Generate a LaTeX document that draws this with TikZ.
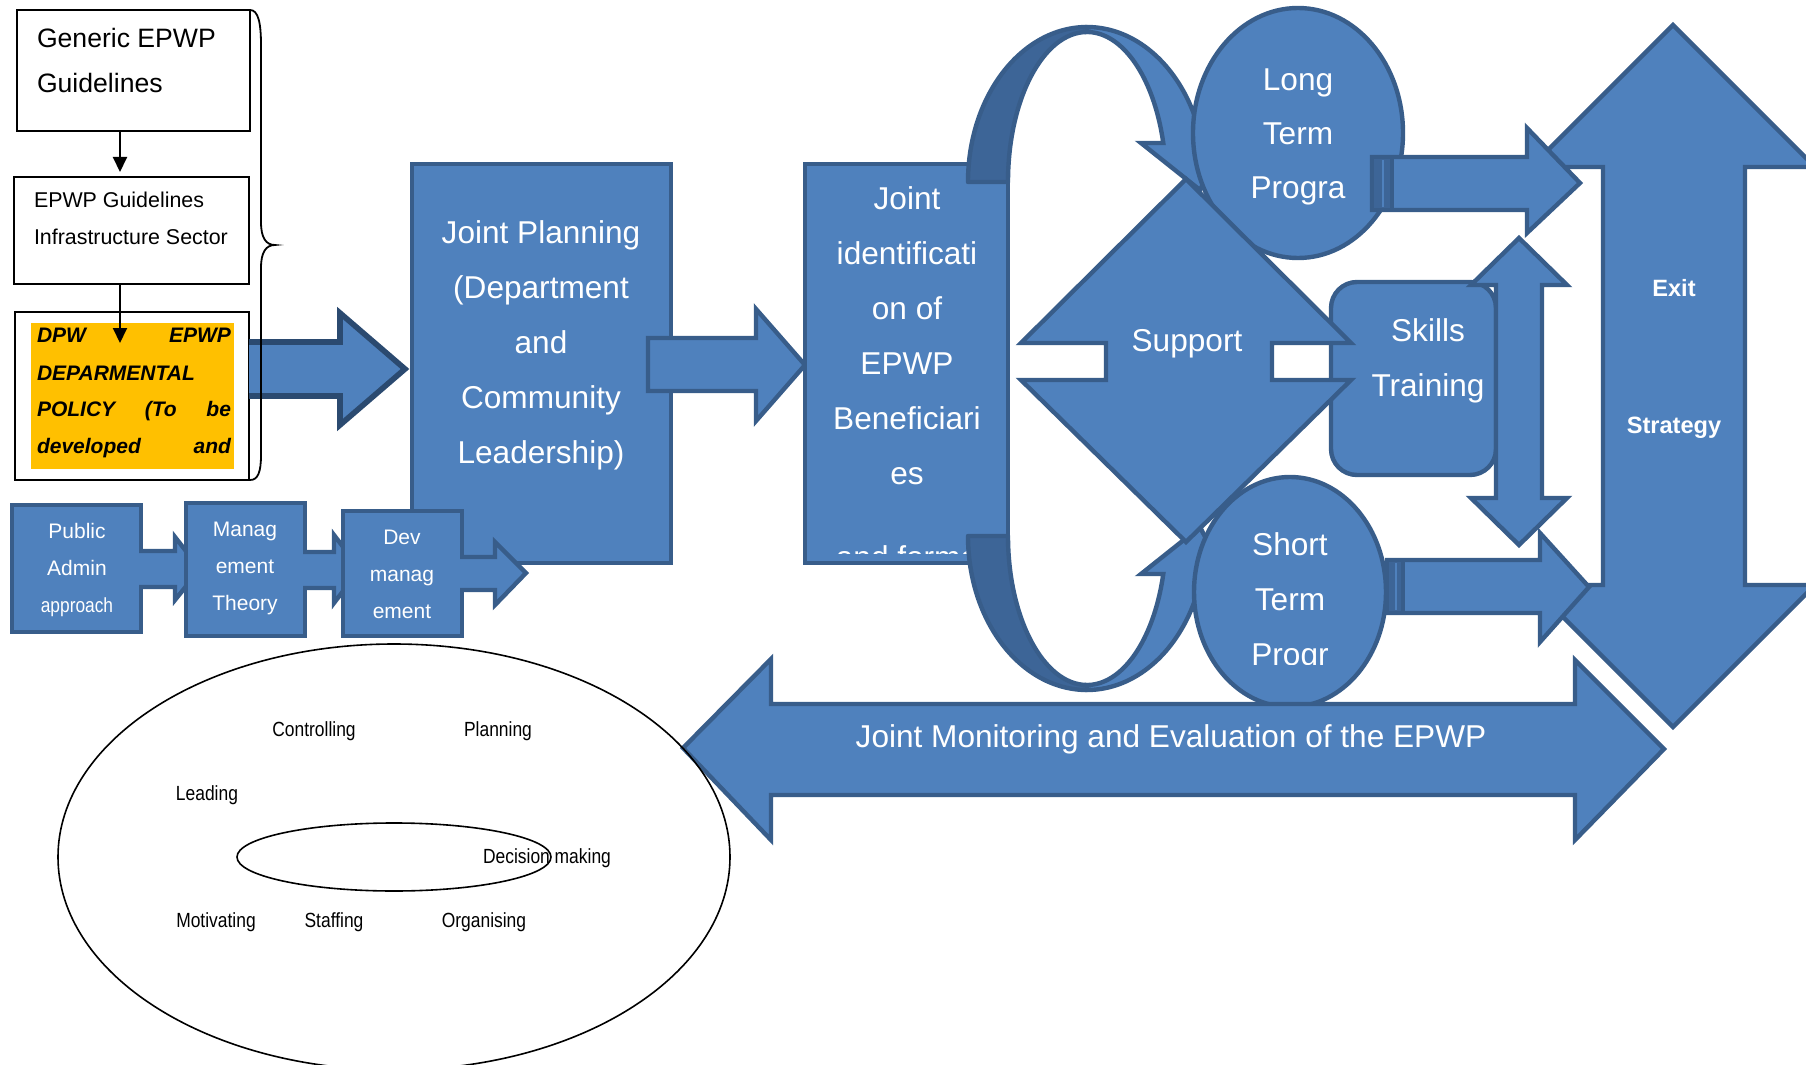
\documentclass[tikz,border=0pt]{standalone}
\usepackage{fontspec}
\setmainfont{Liberation Sans}
\newfontfamily\narrowfont[FakeStretch=0.85]{Liberation Sans}
\usetikzlibrary{shapes.geometric, fit, arrows.meta}

\definecolor{epwpFill}{HTML}{4F81BD}
\definecolor{epwpLine}{HTML}{385D8A}
\definecolor{epwpDark}{HTML}{3D6597}
\definecolor{epwpDeep}{HTML}{2B4A70}
\definecolor{epwpGold}{HTML}{FFC000}

\newcommand{\fsz}[2]{\fontsize{#1}{#2}\selectfont}

\begin{document}
\begin{tikzpicture}[
    x=0.5pt, y=-0.5pt,
    every node/.style={inner sep=0pt, outer sep=0pt},
    shapeblue/.style={fill=epwpFill, draw=epwpLine, line width=2.2pt, line join=miter},
    ringdark/.style={fill=epwpDark, draw=epwpLine, line width=2.2pt, line join=round},
    wbox/.style={draw=black, line width=1pt, fill=white},
    bigtxt/.style={text=white, align=center, font=\fsz{15.8}{27.5}},
    smalltxt/.style={text=white, align=center, font=\fsz{10.5}{18.5}},
    mgmt/.style={font=\narrowfont\fsz{10.25}{12}},
    blackarrow/.style={-{Triangle[width=7pt,length=7.5pt]}, line width=1pt},
]

\useasboundingbox (0,0) rectangle (1806,1065);

% ----------------------------------------------------------------------
% Guideline stack (top left)
% ----------------------------------------------------------------------
\node[wbox, fit={(17,10) (250,131)}] (gen) {};
\node[anchor=west, align=left, font=\fsz{13.3}{22.5}] (gen-t) at (37,60)
    {Generic EPWP\\Guidelines};

\node[wbox, fit={(14,177) (249,284)}] (guide) {};
\node[anchor=west, align=left, font=\fsz{10.7}{18.5}] (guide-t) at (34,218.5)
    {EPWP Guidelines\\Infrastructure Sector};

\node[wbox, fit={(15,312) (249,480)}] (dpw) {};
\fill[epwpGold] (31,323) rectangle (234,469);
\foreach \i/\yy/\txt in {1/342.5/{DPW\hfill EPWP},
                         2/380.5/{DEPARMENTAL\hfill},
                         3/416.5/{POLICY\hfill(To\hfill be},
                         4/453.5/{developed\hfill and}}
    \node[anchor=base west, font=\fsz{10.5}{12}\bfseries\itshape] (dpw-\i)
        at (37,\yy) {\makebox[97pt][l]{\txt}};

\coordinate (ax) at (120,0);
\coordinate (dpwin) at (120,343);
\draw[blackarrow, shorten >=2.5pt] (gen.south -| ax) -- (guide.north -| ax);
\draw[blackarrow] (guide.south -| ax) -- (dpwin);

% policy arrow into joint planning
\filldraw[shapeblue, draw=epwpDeep, line width=2.8pt]
    (249,342) -- (340,342) -- (340,313) -- (405,369) -- (340,425)
    -- (340,396) -- (249,396);

% brace
\draw[line width=0.9pt]
    (250,10) .. controls (258,10) and (261,22) .. (261,45) -- (261,222)
    .. controls (261,238) and (266,245) .. (275,245)
    .. controls (266,245) and (261,252) .. (261,268) -- (261,455)
    .. controls (261,472) and (258,480) .. (250,480);

% ----------------------------------------------------------------------
% Joint planning and identification
% ----------------------------------------------------------------------
\node[shapeblue, fit={(412,164) (671,563)}] (jp) {};
\node[bigtxt] (jp-t) at (541,345.5)
    {Joint Planning\\(Department\\and\\Community\\Leadership)};

\filldraw[shapeblue]
    (648,338) -- (756,338) -- (756,309) -- (805,365) -- (756,421)
    -- (756,391) -- (648,391) -- cycle;

\node[shapeblue, fit={(805,164) (1008,563)}] (ji) {};
\node[bigtxt] (ji-t) at (907,335.5)
    {Joint\\identificati\\on of\\EPWP\\Beneficiari\\es};
\begin{scope}
    \clip (820,541) rectangle (1000,553);
    \node[anchor=base, text=white, font=\fsz{15.8}{20}] (ji-cut) at (907,568)
        {and forma};
\end{scope}

% ----------------------------------------------------------------------
% Loop arrows (ring)
% ----------------------------------------------------------------------
\filldraw[ringdark]
    (968,182) .. controls (968,96.4) and (1021.3,27) .. (1087,27) -- (1087,32)
    .. controls (1043.4,32) and (1008,99.2) .. (1008,182) -- cycle;
\filldraw[shapeblue]
    plot[domain=90:14.57, samples=40, smooth] ({1087+119*cos(\x)},{182-155*sin(\x)})
    -- (1224,143) -- (1200,190) -- (1141,143)
    -- plot[domain=15.07:90, samples=40, smooth] ({1087+79*cos(\x)},{182-150*sin(\x)})
    -- cycle;

\filldraw[ringdark]
    (968,536) .. controls (968,621.6) and (1021.3,690) .. (1087,690) -- (1087,685)
    .. controls (1043.4,685) and (1008,617.8) .. (1008,536) -- cycle;
\filldraw[shapeblue]
    plot[domain=-90:-14.57, samples=40, smooth] ({1087+119*cos(\x)},{535-155*sin(\x)})
    -- (1224,574) -- (1200,527) -- (1141,574)
    -- plot[domain=-15.07:-90, samples=40, smooth] ({1087+79*cos(\x)},{535-150*sin(\x)})
    -- cycle;

% ----------------------------------------------------------------------
% Programmes, support, skills
% ----------------------------------------------------------------------
\node[shapeblue, ellipse, minimum width=105pt, minimum height=125pt] (lt) at (1298,133) {};
\node[bigtxt, font=\fsz{15.8}{27}] (lt-t) at (1298,137) {Long\\Term\\Progra};

\node[shapeblue, ellipse, minimum width=96pt, minimum height=115pt] (st) at (1290,592) {};
\begin{scope}
    \clip (1190,470) rectangle (1390,664);
    \node[bigtxt] (st-t) at (1290,602) {Short\\Term\\Progr};
\end{scope}

\node[shapeblue, rounded corners=13pt, fit={(1331,282) (1496,475)}] (skills) {};
\node[bigtxt] (skills-t) at (1428,360.5) {Skills\\Training};

\filldraw[shapeblue]
    (1186,179) -- (1351,343) -- (1272,343) -- (1272,380) -- (1351,380)
    -- (1186,542) -- (1021,380) -- (1106,380) -- (1106,343) -- (1021,343) -- cycle;
\node[text=white, font=\fsz{15.8}{20}] (support) at (1187,343.5) {Support};

\filldraw[shapeblue]
    (1519,238) -- (1567,285) -- (1542,285) -- (1542,498) -- (1567,498)
    -- (1519,545) -- (1471,498) -- (1496,498) -- (1496,285) -- (1471,285) -- cycle;

% ----------------------------------------------------------------------
% Exit strategy
% ----------------------------------------------------------------------
\filldraw[shapeblue]
    (1673,25) -- (1815,167) -- (1745,167) -- (1745,585) -- (1815,585)
    -- (1673,727) -- (1531,585) -- (1603,585) -- (1603,167) -- (1531,167) -- cycle;
\node[text=white, font=\fsz{11.8}{14}\bfseries] (exit) at (1674,288) {Exit};
\node[text=white, font=\fsz{11.8}{14}\bfseries] (strategy) at (1674,428) {Strategy};

\filldraw[shapeblue]
    (1372,157) -- (1527,157) -- (1527,128) -- (1580,183) -- (1527,233)
    -- (1527,210) -- (1372,210) -- cycle;
\filldraw[ringdark] (1372,157) rectangle (1392,210);
\draw[epwpFill, line width=0.6pt] (1383,160) -- (1383,207);

\filldraw[shapeblue]
    (1387,560) -- (1540,560) -- (1540,533) -- (1589,587) -- (1540,642)
    -- (1540,613) -- (1387,613) -- cycle;
\filldraw[ringdark] (1387,560) rectangle (1403,613);
\draw[epwpFill, line width=0.6pt] (1396,563) -- (1396,610);

% ----------------------------------------------------------------------
% Joint monitoring
% ----------------------------------------------------------------------
\filldraw[shapeblue]
    (683,748) -- (771,659) -- (771,704) -- (1575,704) -- (1575,660) -- (1664,749)
    -- (1575,840) -- (1575,795) -- (771,795) -- (771,840) -- cycle;
\node[text=white, font=\fsz{15.8}{20}] (jm) at (1171,739.5)
    {Joint Monitoring and Evaluation of the EPWP};

% ----------------------------------------------------------------------
% Theory chain (bottom left)
% ----------------------------------------------------------------------
\node[shapeblue, fit={(12,505) (141,632)}] (pub) {};
\node[smalltxt] (pub-t) at (77,570) {Public\\Admin\\{\narrowfont\fsz{10.2}{18.5}approach}};
\filldraw[shapeblue]
    (139,551) -- (175,551) -- (175,537) -- (200,569) -- (175,600)
    -- (175,587) -- (139,587);

\node[shapeblue, fit={(186,503) (305,636)}] (mgt) {};
\node[smalltxt] (mgt-t) at (245,568.5) {Manag\\ement\\Theory};
\filldraw[shapeblue]
    (303,552) -- (334,552) -- (334,535) -- (360,569) -- (334,603)
    -- (334,588) -- (303,588);

\node[shapeblue, fit={(343,511) (462,636)}] (dev) {};
\node[smalltxt] (dev-t) at (402,574.5) {Dev\\manag\\ement};
\filldraw[shapeblue]
    (460,557) -- (495,557) -- (495,542) -- (526,573) -- (495,605)
    -- (495,590) -- (460,590);

% ----------------------------------------------------------------------
% Management functions
% ----------------------------------------------------------------------
\node[draw, line width=0.8pt, ellipse, minimum width=336pt, minimum height=213pt]
    (outer) at (394,857) {};
\node[draw, line width=0.8pt, ellipse, minimum width=157pt, minimum height=34pt]
    (inner) at (394,857) {};

\node[mgmt] (ctrl)  at (314,731) {Controlling};
\node[mgmt] (plan)  at (498,731) {Planning};
\node[mgmt] (lead)  at (207,795) {Leading};
\node[mgmt] (dec)   at (547,858) {Decision making};
\node[mgmt] (motiv) at (216,922) {Motivating};
\node[mgmt] (staff) at (334,922) {Staffing};
\node[mgmt] (org)   at (484,922) {Organising};

\end{tikzpicture}
\end{document}
